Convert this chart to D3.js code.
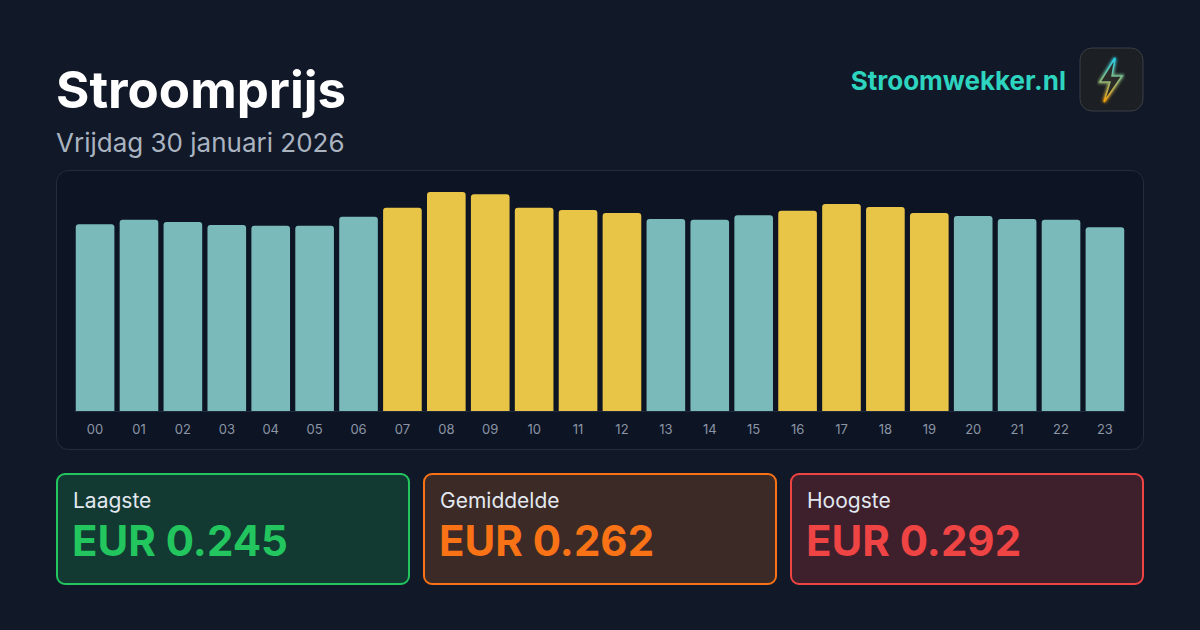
<!DOCTYPE html>
<html><head><meta charset="utf-8">
<script src="https://cdn.jsdelivr.net/npm/d3@7"></script>
<style>body{margin:0;background:#111827;}svg{display:block;font-family:Inter,sans-serif;}</style>
</head><body><svg id="c" width="1200" height="630"></svg>
<script>
const hours = ["00","01","02","03","04","05","06","07","08","09","10","11","12","13","14","15","16","17","18","19","20","21","22","23"];
const prices = [0.249,0.255,0.252,0.248,0.247,0.247,0.259,0.271,0.292,0.289,0.271,0.268,0.264,0.256,0.255,0.261,0.267,0.276,0.272,0.264,0.260,0.256,0.255,0.245];
const statLabels = ["Laagste","Gemiddelde","Hoogste"];

const svg = d3.select("#c");
svg.append("rect").attr("width",1200).attr("height",630).attr("fill","#111827");

// Header
svg.append("text").attr("x",56).attr("y",108).attr("fill","#fff").attr("font-size",51).attr("font-weight",700).text("Stroomprijs");
svg.append("text").attr("x",56).attr("y",152).attr("fill","#aab3c0").attr("font-size",26).text("Vrijdag 30 januari 2026");
svg.append("text").attr("x",1066).attr("y",90).attr("text-anchor","end").attr("fill","#2dd4bf").attr("font-size",26).attr("font-weight",700).text("Stroomwekker.nl");

// Logo
const defs = svg.append("defs");
const lg = defs.append("linearGradient").attr("id","bolt").attr("x1",0).attr("y1",0).attr("x2",0).attr("y2",1);
lg.append("stop").attr("offset","0%").attr("stop-color","#22d3ee");
lg.append("stop").attr("offset","100%").attr("stop-color","#f59e0b");
defs.append("filter").attr("id","glow").append("feGaussianBlur").attr("stdDeviation",1.5);
svg.append("rect").attr("x",1080).attr("y",48).attr("width",63).attr("height",63).attr("rx",12).attr("fill","#1c1f23").attr("stroke","#3a3f46");
const bolt = "M1115,58 L1100,82 L1110,82 L1104,102 L1122,76 L1112,76 Z";
svg.append("path").attr("d",bolt).attr("fill","none").attr("stroke","url(#bolt)").attr("stroke-width",3).attr("filter","url(#glow)");
svg.append("path").attr("d",bolt).attr("fill","#2a2a28").attr("stroke","url(#bolt)").attr("stroke-width",1.5);

// Chart panel
svg.append("rect").attr("x",56.5).attr("y",170.5).attr("width",1087).attr("height",279).attr("rx",12).attr("fill","#0d1424").attr("stroke","#232d3e");

const avg = d3.mean(prices);
const x = d3.scaleBand().domain(hours).range([74,1126]).paddingInner(0.12).paddingOuter(0.04);
const y = d3.scaleLinear().domain([0,0.292]).range([411,192]);

svg.append("line").attr("x1",74).attr("x2",1126).attr("y1",411.5).attr("y2",411.5).attr("stroke","#1e293b");

svg.selectAll(".bar").data(prices).enter().append("path")
  .attr("fill",d => d >= avg ? "#e8c547" : "#7ababa")
  .attr("d",(d,i) => {
    const x0 = x(hours[i]), w = x.bandwidth(), t = y(d), b = y(0), r = 3;
    return `M${x0},${b}V${t+r}Q${x0},${t} ${x0+r},${t}H${x0+w-r}Q${x0+w},${t} ${x0+w},${t+r}V${b}Z`;
  });

const ax = svg.append("g").attr("transform","translate(0,422)")
  .call(d3.axisBottom(x).tickSize(0).tickPadding(0));
ax.select(".domain").remove();
ax.selectAll("text").attr("fill","#8b95a5").attr("font-size",13).attr("font-family","Inter,sans-serif").attr("dy","0.95em");

// Stat cards
const stats = [d3.min(prices), avg, d3.max(prices)];
const cardStroke = ["#22c55e","#f97316","#ef4444"];
const cardFill = ["#123a32","#3c2a26","#3e1f2c"];
statLabels.forEach((l,i) => {
  const g = svg.append("g").attr("transform",`translate(${56 + i * 367},473)`);
  g.append("rect").attr("x",1).attr("y",1).attr("width",352).attr("height",110).attr("rx",8)
    .attr("fill",cardFill[i]).attr("stroke",cardStroke[i]).attr("stroke-width",2);
  g.append("text").attr("x",17).attr("y",35).attr("fill","#e2e8f0").attr("font-size",21).text(l);
  g.append("text").attr("x",16).attr("y",83).attr("fill",cardStroke[i]).attr("font-size",42).attr("font-weight",700)
    .text("EUR " + stats[i].toFixed(3));
});
</script></body></html>
